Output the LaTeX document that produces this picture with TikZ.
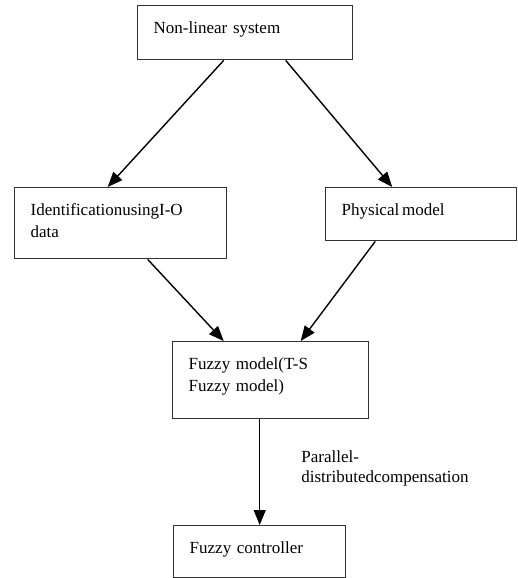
\documentclass[tikz,border=0pt]{standalone}
\usepackage{fontspec}
\setmainfont{Liberation Serif}
\usetikzlibrary{arrows.meta,positioning}

\begin{document}
\begin{tikzpicture}[x=1pt,y=1pt,>={Triangle[length=15pt,width=12pt]},
                    blk/.style={draw=black!80,line width=1.4pt,anchor=north west,
                      align=left,inner xsep=16pt,inner ysep=0pt,text height=28pt,
                      font=\fontsize{17}{21.5}\selectfont},
                    arr/.style={->,line width=1.4pt}]

  \useasboundingbox (0,0) rectangle (518,-578);

  \node[blk,text width=183pt,text depth=26pt] (sys)   at (137,-5)   {Non-linear system};
  \node[blk,text width=180pt,text depth=43pt] (ident) at (14,-187)  {IdentificationusingI-O\\data};
  \node[blk,text width=159pt,text depth=25pt] (phys)  at (325,-187) {Physical\,model};
  \node[blk,text width=164pt,text depth=49pt] (fz)    at (172,-341) {Fuzzy model(T-S\\Fuzzy model)};
  \node[blk,text width=140pt,text depth=24pt] (ctl)   at (173,-525) {Fuzzy controller};

  \draw[arr] ([xshift=-21.5pt]sys.south)  -- ([xshift=-13pt]ident.north);
  \draw[arr] ([xshift=40.5pt]sys.south)   -- ([xshift=-29pt]phys.north);
  \draw[arr] ([xshift=27pt]ident.south)   -- ([xshift=-47pt]fz.north);
  \draw[arr] ([xshift=-46pt]phys.south)   -- ([xshift=30pt]fz.north);
  \path[arr] ([xshift=-11pt]fz.south) edge
        node[right=39pt,yshift=4pt,inner sep=2pt,align=left,
             font=\fontsize{17}{19.5}\selectfont] {Parallel-\\distributedcompensation}
        (ctl.north);
\end{tikzpicture}
\end{document}
